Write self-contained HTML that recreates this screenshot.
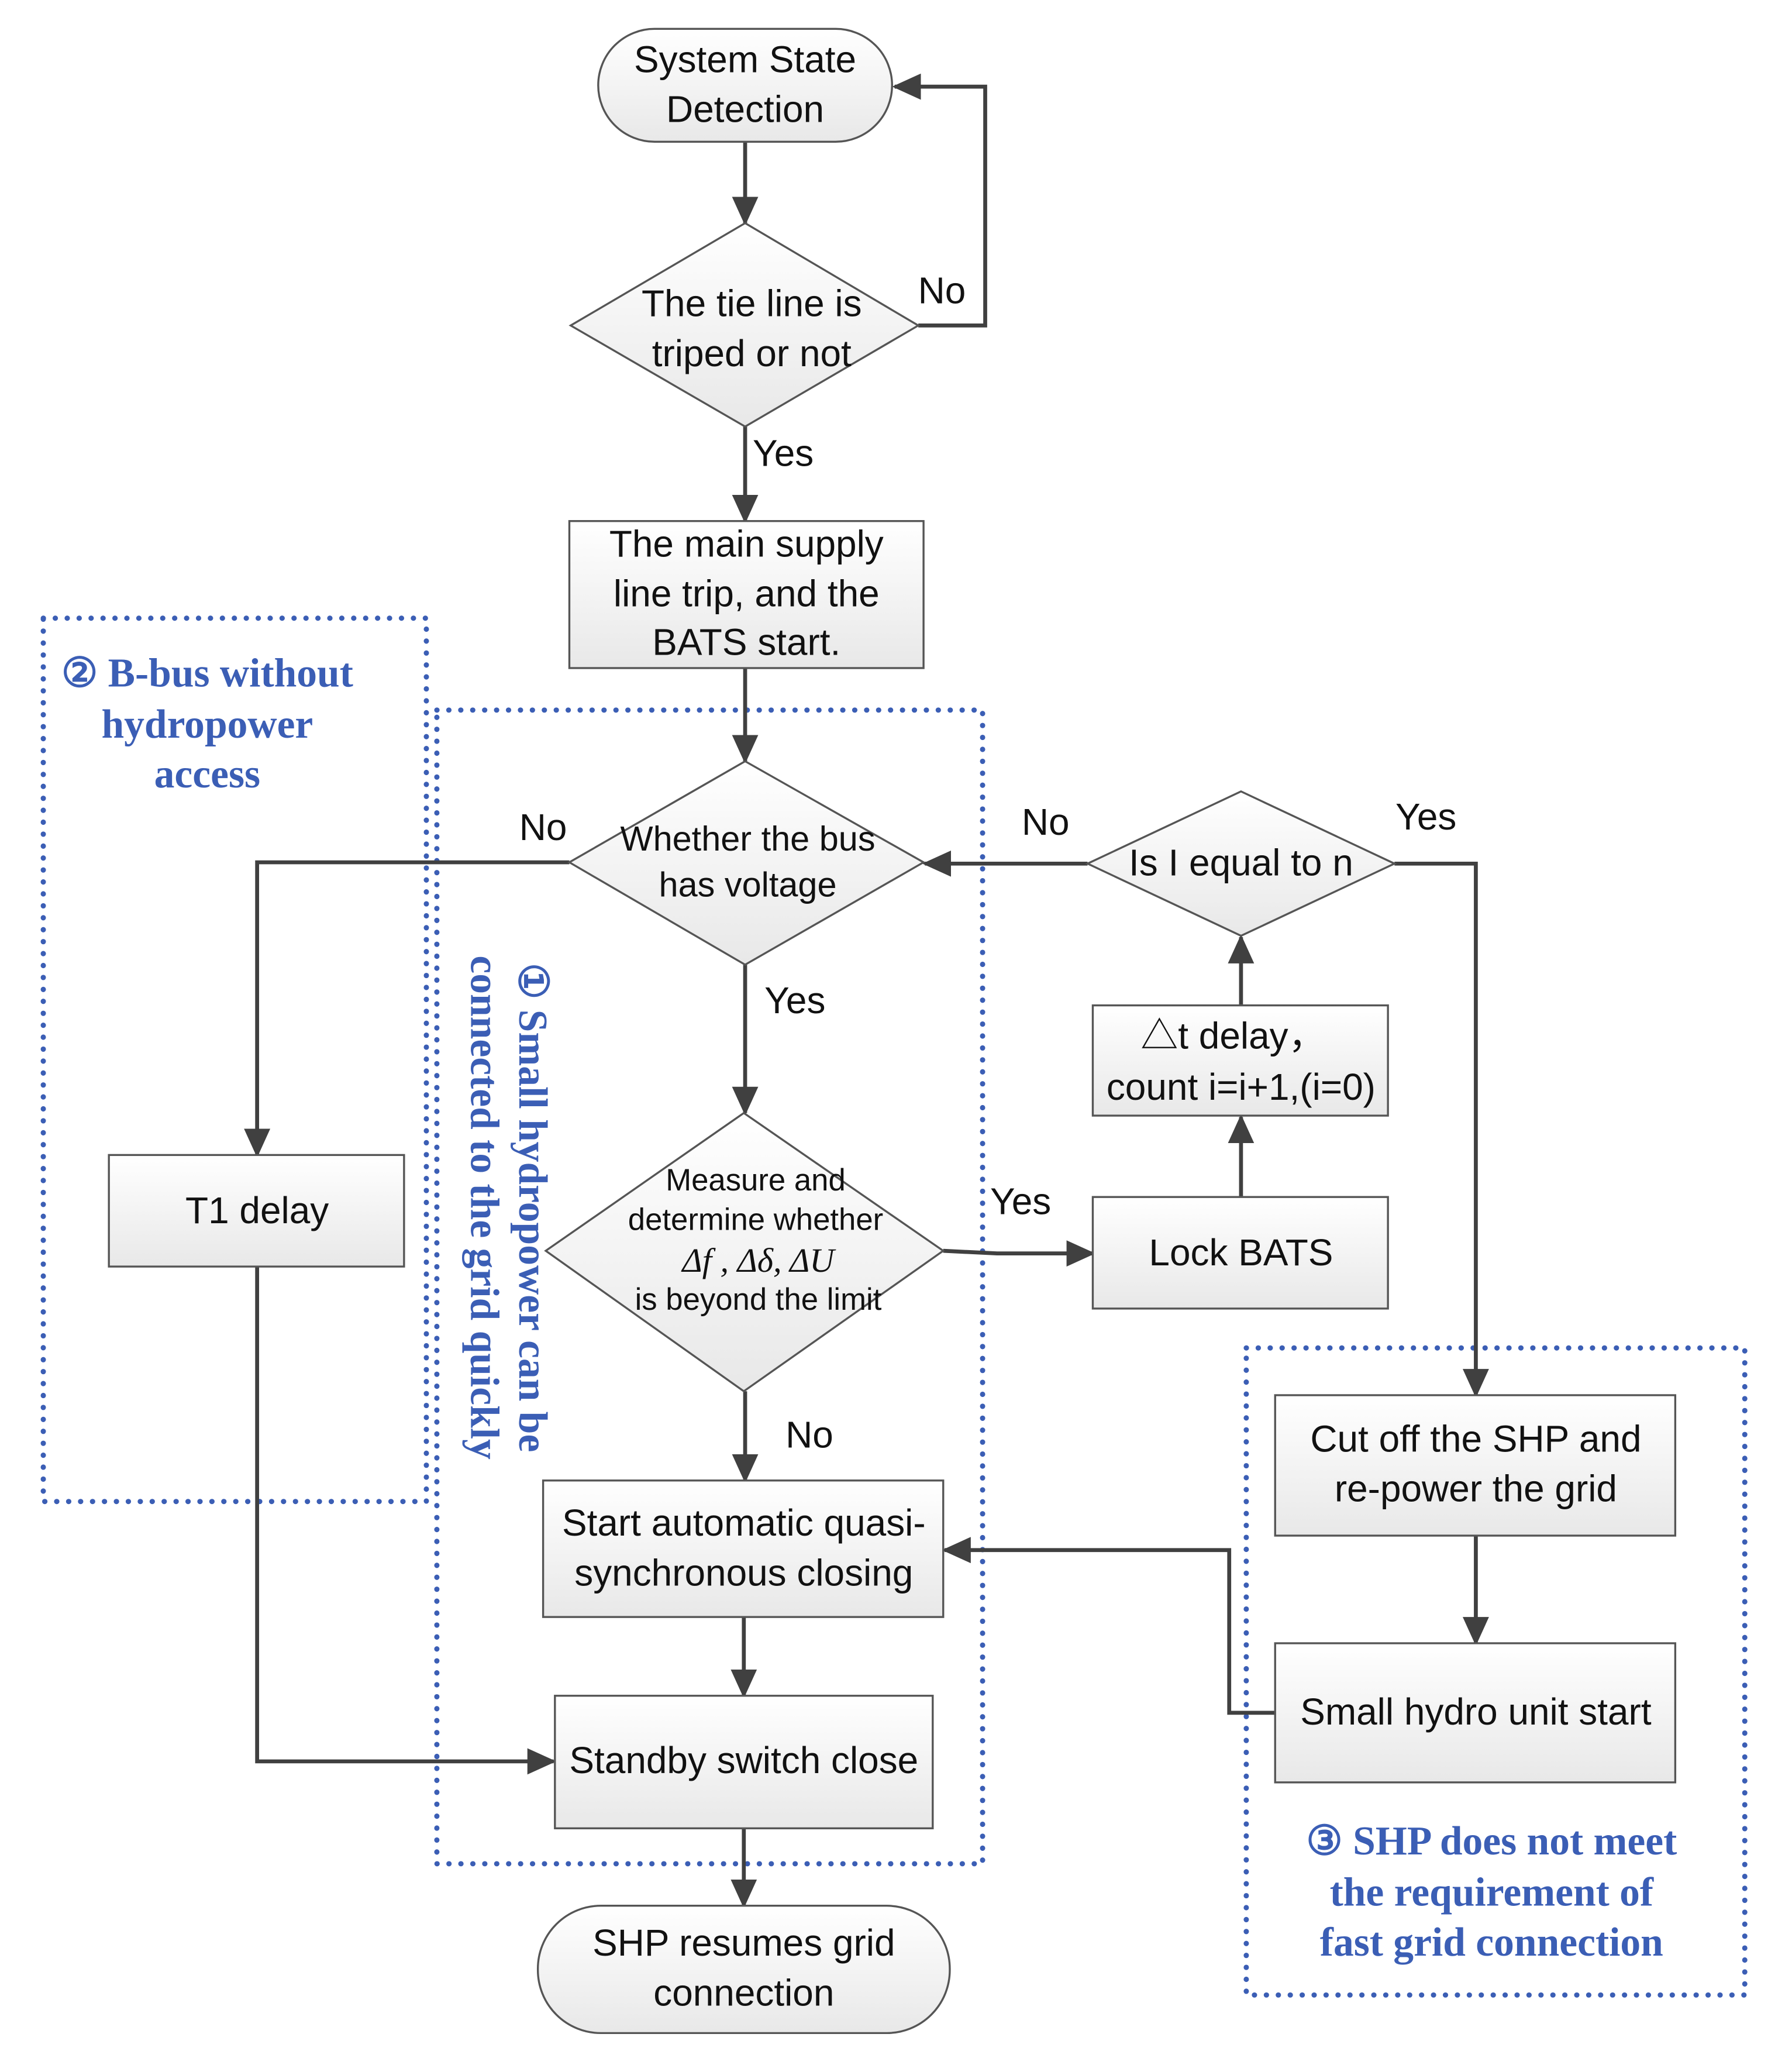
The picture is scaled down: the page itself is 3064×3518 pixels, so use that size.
<!DOCTYPE html>
<html><head><meta charset="utf-8"><style>
html,body{margin:0;padding:0;background:#fff}
svg{display:block}
.t{font-family:"Liberation Sans",sans-serif;font-size:28.5px;fill:#111;text-anchor:middle}
.s{font-size:23.5px}
.b{font-family:"Liberation Serif",serif;font-weight:bold;font-size:31px;fill:#3b5eb5;text-anchor:middle}
.n{fill:url(#g);stroke:#555;stroke-width:1.5}
.c{stroke:#404040;stroke-width:3;fill:none}
.d{stroke:#3b5eb5;stroke-width:4;fill:none;stroke-dasharray:0.1 9;stroke-linecap:round}
</style></head><body>
<svg width="3064" height="3518" viewBox="0 0 1366 1568" preserveAspectRatio="none" xmlns="http://www.w3.org/2000/svg">
<defs>
<linearGradient id="g" x1="0" y1="0" x2="0" y2="1"><stop offset="0" stop-color="#ffffff"/><stop offset="1" stop-color="#e8e8e8"/></linearGradient>
<marker id="A" markerWidth="22" markerHeight="20" refX="20" refY="10" orient="auto" markerUnits="userSpaceOnUse" viewBox="0 0 22 20"><path d="M0,0 L22,10 L0,20 z" fill="#404040"/></marker>
</defs>
<rect class="d" x="33" y="471" width="292" height="673"/>
<rect class="d" x="333" y="541" width="416" height="879"/>
<rect class="d" x="950" y="1027" width="380" height="493"/>
<line class="c" x1="568" y1="108" x2="568" y2="170" marker-end="url(#A)"/>
<polyline class="c" points="700,248 751,248 751,66 682,66" marker-end="url(#A)"/>
<line class="c" x1="568" y1="325" x2="568" y2="397" marker-end="url(#A)"/>
<line class="c" x1="568" y1="509" x2="568" y2="580" marker-end="url(#A)"/>
<polyline class="c" points="434,657 196,657 196,880" marker-end="url(#A)"/>
<polyline class="c" points="196,965 196,1342 422,1342" marker-end="url(#A)"/>
<line class="c" x1="568" y1="735" x2="568" y2="848" marker-end="url(#A)"/>
<polyline class="c" points="719,953 760,955 833,955" marker-end="url(#A)"/>
<line class="c" x1="946" y1="912" x2="946" y2="851" marker-end="url(#A)"/>
<line class="c" x1="946" y1="766" x2="946" y2="714" marker-end="url(#A)"/>
<line class="c" x1="829" y1="658" x2="705" y2="658" marker-end="url(#A)"/>
<polyline class="c" points="1063,658 1125,658 1125,1063" marker-end="url(#A)"/>
<line class="c" x1="568" y1="1060" x2="568" y2="1128" marker-end="url(#A)"/>
<line class="c" x1="567" y1="1232" x2="567" y2="1292" marker-end="url(#A)"/>
<line class="c" x1="567" y1="1393" x2="567" y2="1452" marker-end="url(#A)"/>
<line class="c" x1="1125" y1="1170" x2="1125" y2="1252" marker-end="url(#A)"/>
<polyline class="c" points="972,1305 937,1305 937,1181 720,1181" marker-end="url(#A)"/>
<rect class="n" x="456" y="22" width="224" height="86" rx="43"/>
<polygon class="n" points="568,170 700,248 568,325 435,248"/>
<rect class="n" x="434" y="397" width="270" height="112"/>
<polygon class="n" points="568,580 704,657 568,735 434,657"/>
<rect class="n" x="83" y="880" width="225" height="85"/>
<polygon class="n" points="567,848 719,953 567,1060 416,953"/>
<rect class="n" x="833" y="912" width="225" height="85"/>
<rect class="n" x="833" y="766" width="225" height="84"/>
<polygon class="n" points="946,603 1063,658 946,713 829,658"/>
<rect class="n" x="414" y="1128" width="305" height="104"/>
<rect class="n" x="423" y="1292" width="288" height="101"/>
<rect class="n" x="410" y="1452" width="314" height="97" rx="48"/>
<rect class="n" x="972" y="1063" width="305" height="107"/>
<rect class="n" x="972" y="1252" width="305" height="106"/>
<text class="t" x="568" y="55">System State</text>
<text class="t" x="568" y="93">Detection</text>
<text class="t" x="573" y="241">The tie line is</text>
<text class="t" x="573" y="279">triped or not</text>
<text class="t" x="718" y="231">No</text>
<text class="t" x="597" y="355">Yes</text>
<text class="t" x="569" y="424">The main supply</text>
<text class="t" x="569" y="462">line  trip, and the</text>
<text class="t" x="569" y="499">BATS start.</text>
<text class="t" x="570" y="648" style="font-size:26.5px">Whether the bus</text>
<text class="t" x="570" y="683" style="font-size:26.5px">has voltage</text>
<text class="t" x="414" y="640">No</text>
<text class="t" x="196" y="932">T1 delay</text>
<text class="t" x="606" y="772">Yes</text>
<text class="t s" x="576" y="907">Measure and</text>
<text class="t s" x="576" y="937">determine whether</text>
<text class="t" x="578" y="969" style="font-family:'Liberation Serif',serif;font-style:italic;font-size:26px">Δf , Δδ, ΔU</text>
<text class="t s" x="578" y="998">is beyond the limit</text>
<text class="t" x="778" y="925">Yes</text>
<text class="t" x="946" y="964">Lock BATS</text>
<text class="t" x="940" y="799" style="font-family:'Liberation Sans','Noto Sans CJK SC',sans-serif">△t delay，</text>
<text class="t" x="946" y="838">count i=i+1,(i=0)</text>
<text class="t" x="946" y="667">Is I equal to n</text>
<text class="t" x="797" y="636">No</text>
<text class="t" x="1087" y="632">Yes</text>
<text class="t" x="617" y="1103">No</text>
<text class="t" x="567" y="1170">Start automatic quasi-</text>
<text class="t" x="567" y="1208">synchronous closing</text>
<text class="t" x="567" y="1351">Standby switch close</text>
<text class="t" x="567" y="1490">SHP resumes grid</text>
<text class="t" x="567" y="1528">connection</text>
<text class="t" x="1125" y="1106">Cut off the SHP and</text>
<text class="t" x="1125" y="1144">re-power the grid</text>
<text class="t" x="1125" y="1314">Small hydro unit start</text>
<text class="b" x="158" y="523">② B-bus without</text>
<text class="b" x="158" y="562">hydropower</text>
<text class="b" x="158" y="600">access</text>
<text class="b" transform="translate(396,920) rotate(90)" x="0" y="0">① Small hydropower can be</text>
<text class="b" transform="translate(359,920) rotate(90)" x="0" y="0">connected to the grid quickly</text>
<text class="b" x="1137" y="1413">③ SHP does not meet</text>
<text class="b" x="1137" y="1452">the requirement of</text>
<text class="b" x="1137" y="1490">fast grid connection</text>
</svg>
</body></html>
